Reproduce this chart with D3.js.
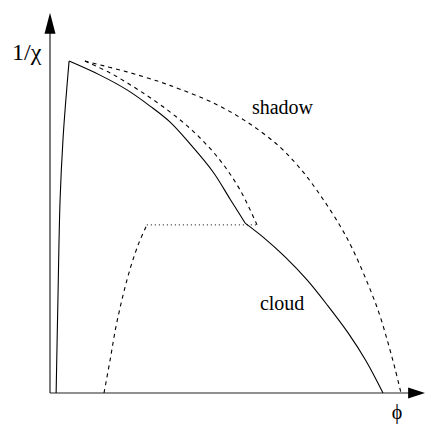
<!DOCTYPE html>
<html>
<head>
<meta charset="utf-8">
<script src="https://cdn.jsdelivr.net/npm/d3@7"></script>
</head>
<body style="margin:0">
<svg id="chart" width="425" height="425" style="font-family: 'Liberation Serif', serif; display: block; background: #fff;"></svg>
<script>
// Phase diagram: inverse interaction parameter 1/chi against volume fraction phi.
// Cloud curve, rising branch (left edge) up to its cusp
const cloudRise = [
  [0.017, 0.000], [0.022, 0.258], [0.028, 0.536], [0.036, 0.703],
  [0.044, 0.814], [0.053, 0.922]
];
// Cloud curve, from the cusp down to the kink
const cloudUpper = [
  [0.053, 0.922], [0.139, 0.883], [0.214, 0.842], [0.278, 0.797],
  [0.333, 0.753], [0.389, 0.692], [0.453, 0.614], [0.500, 0.539],
  [0.542, 0.472]
];
// Cloud curve, from the kink down to the phi axis
const cloudLower = [
  [0.542, 0.472], [0.592, 0.433], [0.653, 0.378], [0.714, 0.314],
  [0.772, 0.242], [0.828, 0.167], [0.878, 0.089], [0.925, 0.000]
];
// Shadow curve (outer dashed)
const shadowCurve = [
  [0.097, 0.922], [0.214, 0.892], [0.306, 0.864], [0.361, 0.844],
  [0.453, 0.806], [0.547, 0.753], [0.639, 0.683], [0.703, 0.614],
  [0.758, 0.539], [0.806, 0.464], [0.839, 0.403], [0.881, 0.308],
  [0.914, 0.222], [0.939, 0.139], [0.958, 0.069], [0.975, 0.000]
];
// Inner dashed branch ending at the three-phase line
const innerBranch = [
  [0.097, 0.922], [0.167, 0.889], [0.250, 0.839], [0.333, 0.781],
  [0.403, 0.722], [0.472, 0.647], [0.528, 0.564], [0.575, 0.467]
];
// Lower-left dashed branch rising from the phi axis
const lowerBranch = [
  [0.150, 0.000], [0.167, 0.092], [0.183, 0.183], [0.203, 0.272],
  [0.225, 0.353], [0.247, 0.417], [0.269, 0.467]
];
// Dotted tie line joining the two dashed branches
const tieLine = [[0.269, 0.467], [0.575, 0.467]];

const axisEnds = { phiMax: 1.042, invChiMax: 1.056 };
const labels = [
  { text: "shadow", at: [0.561, 0.775] },
  { text: "cloud",  at: [0.583, 0.231] }
];

const svg = d3.select("#chart");
const x = d3.scaleLinear().domain([0, 1]).range([50, 410]);
const y = d3.scaleLinear().domain([0, 1]).range([393, 33]);

const line = (curve) => d3.line().x(d => x(d[0])).y(d => y(d[1])).curve(curve);

// Axes with arrowheads
const ax = svg.append("g").attr("stroke", "#222").attr("stroke-width", 1.2);
ax.append("line").attr("x1", x(0)).attr("y1", y(0)).attr("x2", x(axisEnds.phiMax) - 14).attr("y2", y(0));
ax.append("line").attr("x1", x(0)).attr("y1", y(0)).attr("x2", x(0)).attr("y2", y(axisEnds.invChiMax) + 16);
svg.append("path")
  .attr("d", `M${x(axisEnds.phiMax)},${y(0)} L${x(axisEnds.phiMax) - 17},${y(0) - 5.5} L${x(axisEnds.phiMax) - 17},${y(0) + 5.5} Z`)
  .attr("fill", "#000");
svg.append("path")
  .attr("d", `M${x(0)},${y(axisEnds.invChiMax)} L${x(0) - 5.5},${y(axisEnds.invChiMax) + 21} L${x(0) + 5.5},${y(axisEnds.invChiMax) + 21} Z`)
  .attr("fill", "#000");

// Solid cloud curve
[cloudRise, cloudUpper, cloudLower].forEach(seg => {
  svg.append("path").attr("d", line(d3.curveCatmullRom)(seg))
    .attr("fill", "none").attr("stroke", "#000").attr("stroke-width", 1.1);
});

// Dashed curves
[shadowCurve, innerBranch, lowerBranch].forEach(seg => {
  svg.append("path").attr("d", line(d3.curveCatmullRom)(seg))
    .attr("fill", "none").attr("stroke", "#000").attr("stroke-width", 1.1)
    .attr("stroke-dasharray", "4,4");
});

// Dotted tie line
svg.append("path").attr("d", line(d3.curveLinear)(tieLine))
  .attr("fill", "none").attr("stroke", "#000").attr("stroke-width", 1)
  .attr("stroke-dasharray", "1,3");

// Curve labels
const txt = svg.append("g").style("font-family", "Liberation Serif");
labels.forEach(l => {
  txt.append("text").attr("x", x(l.at[0])).attr("y", y(l.at[1]))
    .style("font-family", "Liberation Serif").style("font-size", "20px")
    .text(l.text);
});

// Axis titles
txt.append("text").attr("x", 12).attr("y", 60)
  .style("font-family", "Liberation Serif").style("font-size", "24px").text("1/χ");
txt.append("text").attr("x", 397).attr("y", 419)
  .style("font-family", "Liberation Serif").style("font-size", "20px")
  .attr("text-anchor", "middle").text("ϕ");
</script>
</body>
</html>
